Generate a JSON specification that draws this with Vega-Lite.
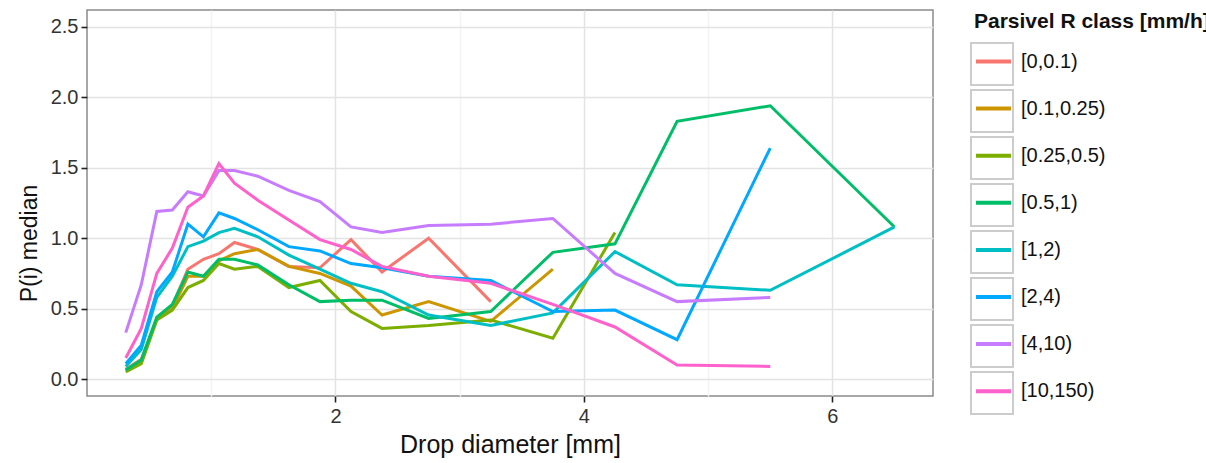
{
  "$schema": "https://vega.github.io/schema/vega-lite/v6.json",
  "width": 846,
  "height": 386,
  "autosize": {"type": "none"},
  "padding": {"left": 87, "top": 10, "right": 273, "bottom": 67},
  "background": "white",
  "config": {
    "font": "Liberation Sans",
    "view": {"stroke": "#8a8a8a", "strokeWidth": 1.5},
    "axis": {
      "domain": false,
      "tickColor": "#222222",
      "tickSize": 6,
      "tickWidth": 1.6,
      "labelFontSize": 20,
      "labelColor": "#333333",
      "titleFontSize": 24,
      "titleFontWeight": "normal",
      "titleColor": "#111111"
    }
  },
  "datasets": {
    "pm": [
      {"d": 0.312, "p": 0.07, "cls": "[0,0.1)"},
      {"d": 0.437, "p": 0.14, "cls": "[0,0.1)"},
      {"d": 0.562, "p": 0.43, "cls": "[0,0.1)"},
      {"d": 0.687, "p": 0.52, "cls": "[0,0.1)"},
      {"d": 0.812, "p": 0.78, "cls": "[0,0.1)"},
      {"d": 0.937, "p": 0.85, "cls": "[0,0.1)"},
      {"d": 1.062, "p": 0.89, "cls": "[0,0.1)"},
      {"d": 1.187, "p": 0.97, "cls": "[0,0.1)"},
      {"d": 1.375, "p": 0.92, "cls": "[0,0.1)"},
      {"d": 1.625, "p": 0.80, "cls": "[0,0.1)"},
      {"d": 1.875, "p": 0.79, "cls": "[0,0.1)"},
      {"d": 2.125, "p": 0.99, "cls": "[0,0.1)"},
      {"d": 2.375, "p": 0.76, "cls": "[0,0.1)"},
      {"d": 2.75, "p": 1.00, "cls": "[0,0.1)"},
      {"d": 3.25, "p": 0.55, "cls": "[0,0.1)"},

      {"d": 0.312, "p": 0.06, "cls": "[0.1,0.25)"},
      {"d": 0.437, "p": 0.12, "cls": "[0.1,0.25)"},
      {"d": 0.562, "p": 0.43, "cls": "[0.1,0.25)"},
      {"d": 0.687, "p": 0.50, "cls": "[0.1,0.25)"},
      {"d": 0.812, "p": 0.73, "cls": "[0.1,0.25)"},
      {"d": 0.937, "p": 0.73, "cls": "[0.1,0.25)"},
      {"d": 1.062, "p": 0.84, "cls": "[0.1,0.25)"},
      {"d": 1.187, "p": 0.89, "cls": "[0.1,0.25)"},
      {"d": 1.375, "p": 0.92, "cls": "[0.1,0.25)"},
      {"d": 1.625, "p": 0.80, "cls": "[0.1,0.25)"},
      {"d": 1.875, "p": 0.75, "cls": "[0.1,0.25)"},
      {"d": 2.125, "p": 0.66, "cls": "[0.1,0.25)"},
      {"d": 2.375, "p": 0.455, "cls": "[0.1,0.25)"},
      {"d": 2.75, "p": 0.55, "cls": "[0.1,0.25)"},
      {"d": 3.25, "p": 0.41, "cls": "[0.1,0.25)"},
      {"d": 3.75, "p": 0.78, "cls": "[0.1,0.25)"},

      {"d": 0.312, "p": 0.05, "cls": "[0.25,0.5)"},
      {"d": 0.437, "p": 0.11, "cls": "[0.25,0.5)"},
      {"d": 0.562, "p": 0.42, "cls": "[0.25,0.5)"},
      {"d": 0.687, "p": 0.49, "cls": "[0.25,0.5)"},
      {"d": 0.812, "p": 0.65, "cls": "[0.25,0.5)"},
      {"d": 0.937, "p": 0.70, "cls": "[0.25,0.5)"},
      {"d": 1.062, "p": 0.82, "cls": "[0.25,0.5)"},
      {"d": 1.187, "p": 0.78, "cls": "[0.25,0.5)"},
      {"d": 1.375, "p": 0.80, "cls": "[0.25,0.5)"},
      {"d": 1.625, "p": 0.65, "cls": "[0.25,0.5)"},
      {"d": 1.875, "p": 0.70, "cls": "[0.25,0.5)"},
      {"d": 2.125, "p": 0.48, "cls": "[0.25,0.5)"},
      {"d": 2.375, "p": 0.36, "cls": "[0.25,0.5)"},
      {"d": 2.75, "p": 0.38, "cls": "[0.25,0.5)"},
      {"d": 3.25, "p": 0.42, "cls": "[0.25,0.5)"},
      {"d": 3.75, "p": 0.29, "cls": "[0.25,0.5)"},
      {"d": 4.25, "p": 1.04, "cls": "[0.25,0.5)"},

      {"d": 0.312, "p": 0.064, "cls": "[0.5,1)"},
      {"d": 0.437, "p": 0.135, "cls": "[0.5,1)"},
      {"d": 0.562, "p": 0.44, "cls": "[0.5,1)"},
      {"d": 0.687, "p": 0.53, "cls": "[0.5,1)"},
      {"d": 0.812, "p": 0.76, "cls": "[0.5,1)"},
      {"d": 0.937, "p": 0.73, "cls": "[0.5,1)"},
      {"d": 1.062, "p": 0.85, "cls": "[0.5,1)"},
      {"d": 1.187, "p": 0.85, "cls": "[0.5,1)"},
      {"d": 1.375, "p": 0.81, "cls": "[0.5,1)"},
      {"d": 1.625, "p": 0.67, "cls": "[0.5,1)"},
      {"d": 1.875, "p": 0.55, "cls": "[0.5,1)"},
      {"d": 2.125, "p": 0.56, "cls": "[0.5,1)"},
      {"d": 2.375, "p": 0.56, "cls": "[0.5,1)"},
      {"d": 2.75, "p": 0.43, "cls": "[0.5,1)"},
      {"d": 3.25, "p": 0.48, "cls": "[0.5,1)"},
      {"d": 3.75, "p": 0.90, "cls": "[0.5,1)"},
      {"d": 4.25, "p": 0.96, "cls": "[0.5,1)"},
      {"d": 4.75, "p": 1.83, "cls": "[0.5,1)"},
      {"d": 5.5, "p": 1.94, "cls": "[0.5,1)"},
      {"d": 6.5, "p": 1.08, "cls": "[0.5,1)"},

      {"d": 0.312, "p": 0.09, "cls": "[1,2)"},
      {"d": 0.437, "p": 0.21, "cls": "[1,2)"},
      {"d": 0.562, "p": 0.58, "cls": "[1,2)"},
      {"d": 0.687, "p": 0.73, "cls": "[1,2)"},
      {"d": 0.812, "p": 0.94, "cls": "[1,2)"},
      {"d": 0.937, "p": 0.98, "cls": "[1,2)"},
      {"d": 1.062, "p": 1.04, "cls": "[1,2)"},
      {"d": 1.187, "p": 1.07, "cls": "[1,2)"},
      {"d": 1.375, "p": 1.01, "cls": "[1,2)"},
      {"d": 1.625, "p": 0.88, "cls": "[1,2)"},
      {"d": 1.875, "p": 0.78, "cls": "[1,2)"},
      {"d": 2.125, "p": 0.68, "cls": "[1,2)"},
      {"d": 2.375, "p": 0.62, "cls": "[1,2)"},
      {"d": 2.75, "p": 0.455, "cls": "[1,2)"},
      {"d": 3.25, "p": 0.38, "cls": "[1,2)"},
      {"d": 3.75, "p": 0.47, "cls": "[1,2)"},
      {"d": 4.25, "p": 0.905, "cls": "[1,2)"},
      {"d": 4.75, "p": 0.67, "cls": "[1,2)"},
      {"d": 5.5, "p": 0.63, "cls": "[1,2)"},
      {"d": 6.5, "p": 1.08, "cls": "[1,2)"},

      {"d": 0.312, "p": 0.11, "cls": "[2,4)"},
      {"d": 0.437, "p": 0.24, "cls": "[2,4)"},
      {"d": 0.562, "p": 0.62, "cls": "[2,4)"},
      {"d": 0.687, "p": 0.76, "cls": "[2,4)"},
      {"d": 0.812, "p": 1.10, "cls": "[2,4)"},
      {"d": 0.937, "p": 1.01, "cls": "[2,4)"},
      {"d": 1.062, "p": 1.18, "cls": "[2,4)"},
      {"d": 1.187, "p": 1.14, "cls": "[2,4)"},
      {"d": 1.375, "p": 1.06, "cls": "[2,4)"},
      {"d": 1.625, "p": 0.94, "cls": "[2,4)"},
      {"d": 1.875, "p": 0.91, "cls": "[2,4)"},
      {"d": 2.125, "p": 0.82, "cls": "[2,4)"},
      {"d": 2.375, "p": 0.79, "cls": "[2,4)"},
      {"d": 2.75, "p": 0.73, "cls": "[2,4)"},
      {"d": 3.25, "p": 0.70, "cls": "[2,4)"},
      {"d": 3.75, "p": 0.48, "cls": "[2,4)"},
      {"d": 4.25, "p": 0.49, "cls": "[2,4)"},
      {"d": 4.75, "p": 0.28, "cls": "[2,4)"},
      {"d": 5.5, "p": 1.64, "cls": "[2,4)"},

      {"d": 0.312, "p": 0.33, "cls": "[4,10)"},
      {"d": 0.437, "p": 0.67, "cls": "[4,10)"},
      {"d": 0.562, "p": 1.19, "cls": "[4,10)"},
      {"d": 0.687, "p": 1.20, "cls": "[4,10)"},
      {"d": 0.812, "p": 1.33, "cls": "[4,10)"},
      {"d": 0.937, "p": 1.30, "cls": "[4,10)"},
      {"d": 1.062, "p": 1.48, "cls": "[4,10)"},
      {"d": 1.187, "p": 1.48, "cls": "[4,10)"},
      {"d": 1.375, "p": 1.44, "cls": "[4,10)"},
      {"d": 1.625, "p": 1.34, "cls": "[4,10)"},
      {"d": 1.875, "p": 1.26, "cls": "[4,10)"},
      {"d": 2.125, "p": 1.08, "cls": "[4,10)"},
      {"d": 2.375, "p": 1.04, "cls": "[4,10)"},
      {"d": 2.75, "p": 1.09, "cls": "[4,10)"},
      {"d": 3.25, "p": 1.10, "cls": "[4,10)"},
      {"d": 3.75, "p": 1.14, "cls": "[4,10)"},
      {"d": 4.25, "p": 0.75, "cls": "[4,10)"},
      {"d": 4.75, "p": 0.55, "cls": "[4,10)"},
      {"d": 5.5, "p": 0.58, "cls": "[4,10)"},

      {"d": 0.312, "p": 0.15, "cls": "[10,150)"},
      {"d": 0.437, "p": 0.36, "cls": "[10,150)"},
      {"d": 0.562, "p": 0.75, "cls": "[10,150)"},
      {"d": 0.687, "p": 0.93, "cls": "[10,150)"},
      {"d": 0.812, "p": 1.22, "cls": "[10,150)"},
      {"d": 0.937, "p": 1.30, "cls": "[10,150)"},
      {"d": 1.062, "p": 1.53, "cls": "[10,150)"},
      {"d": 1.187, "p": 1.39, "cls": "[10,150)"},
      {"d": 1.375, "p": 1.27, "cls": "[10,150)"},
      {"d": 1.625, "p": 1.13, "cls": "[10,150)"},
      {"d": 1.875, "p": 0.99, "cls": "[10,150)"},
      {"d": 2.125, "p": 0.92, "cls": "[10,150)"},
      {"d": 2.375, "p": 0.80, "cls": "[10,150)"},
      {"d": 2.75, "p": 0.73, "cls": "[10,150)"},
      {"d": 3.25, "p": 0.68, "cls": "[10,150)"},
      {"d": 3.75, "p": 0.53, "cls": "[10,150)"},
      {"d": 4.25, "p": 0.37, "cls": "[10,150)"},
      {"d": 4.75, "p": 0.10, "cls": "[10,150)"},
      {"d": 5.5, "p": 0.09, "cls": "[10,150)"}
    ],
    "keys": [
      {"key": "[0,0.1)"}, {"key": "[0.1,0.25)"}, {"key": "[0.25,0.5)"}, {"key": "[0.5,1)"},
      {"key": "[1,2)"}, {"key": "[2,4)"}, {"key": "[4,10)"}, {"key": "[10,150)"}
    ]
  },
  "layer": [
    {
      "data": {"name": "keys"},
      "mark": {"type": "point", "opacity": 0},
      "encoding": {
        "shape": {
          "field": "key",
          "type": "nominal",
          "scale": {"range": ["square"]},
          "legend": {
            "orient": "none",
            "legendX": 883,
            "legendY": 4,
            "title": "Parsivel R class [mm/h]",
            "titleFontSize": 20,
            "titleFontWeight": "bold",
            "titleOpacity": 0,
            "titlePadding": 8,
            "titleLimit": 500,
            "labelOpacity": 0,
            "labelFontSize": 8,
            "symbolSize": 1764,
            "symbolType": "square",
            "symbolStrokeColor": "#CCCCCC",
            "symbolStrokeWidth": 2,
            "symbolFillColor": "transparent",
            "symbolOpacity": 1,
            "rowPadding": -8
          }
        }
      }
    },
    {
      "data": {"name": "pm"},
      "mark": {"type": "line", "strokeWidth": 3, "clip": true},
      "encoding": {
        "x": {
          "field": "d",
          "type": "quantitative",
          "title": "Drop diameter [mm]",
          "scale": {"domain": [0, 6.81], "nice": false, "zero": false},
          "axis": {
            "values": [1, 2, 3, 4, 5, 6],
            "labelExpr": "datum.value % 2 == 0 ? datum.label : ''",
            "tickOpacity": {"condition": {"test": "datum.value % 2 == 0", "value": 1}, "value": 0},
            "gridColor": {"condition": {"test": "datum.value % 2 == 0", "value": "#E3E3E3"}, "value": "#F3F3F3"},
            "gridWidth": 1.5,
            "labelPadding": 4,
            "titlePadding": 6,
            "titleFontSize": 25
          }
        },
        "y": {
          "field": "p",
          "type": "quantitative",
          "title": "P(i) median",
          "scale": {"domain": [-0.12, 2.62], "nice": false, "zero": false},
          "axis": {
            "values": [0, 0.25, 0.5, 0.75, 1, 1.25, 1.5, 1.75, 2, 2.25, 2.5],
            "labelExpr": "(datum.value * 2) % 1 == 0 ? format(datum.value, '.1f') : ''",
            "tickOpacity": {"condition": {"test": "(datum.value * 2) % 1 == 0", "value": 1}, "value": 0},
            "gridColor": {"condition": {"test": "(datum.value * 2) % 1 == 0", "value": "#E3E3E3"}, "value": "#F3F3F3"},
            "gridWidth": 1.5,
            "labelPadding": 3,
            "titlePadding": 9,
            "titleFontSize": 23,
            "titleY": 233
          }
        },
        "color": {
          "field": "cls",
          "type": "nominal",
          "scale": {
            "domain": ["[0,0.1)", "[0.1,0.25)", "[0.25,0.5)", "[0.5,1)", "[1,2)", "[2,4)", "[4,10)", "[10,150)"],
            "range": ["#F8766D", "#CD9600", "#7CAE00", "#00BE67", "#00BFC4", "#00A9FF", "#C77CFF", "#FF61CC"]
          },
          "legend": {
            "orient": "none",
            "legendX": 887,
            "legendY": 1,
            "title": "Parsivel R class [mm/h]",
            "titleFontSize": 21,
            "titleFontWeight": "bold",
            "titleColor": "#111111",
            "titlePadding": 10,
            "titleLimit": 500,
            "labelFontSize": 20,
            "labelColor": "#111111",
            "labelOffset": 8,
            "labelLimit": 300,
            "symbolType": "stroke",
            "symbolSize": 1225,
            "symbolStrokeWidth": 4,
            "rowPadding": 17.1
          }
        }
      }
    },
    {
      "mark": {"type": "rule", "strokeDash": [10, 7], "strokeWidth": 2.2, "color": "black"},
      "encoding": {"y": {"datum": 1}}
    }
  ]
}
